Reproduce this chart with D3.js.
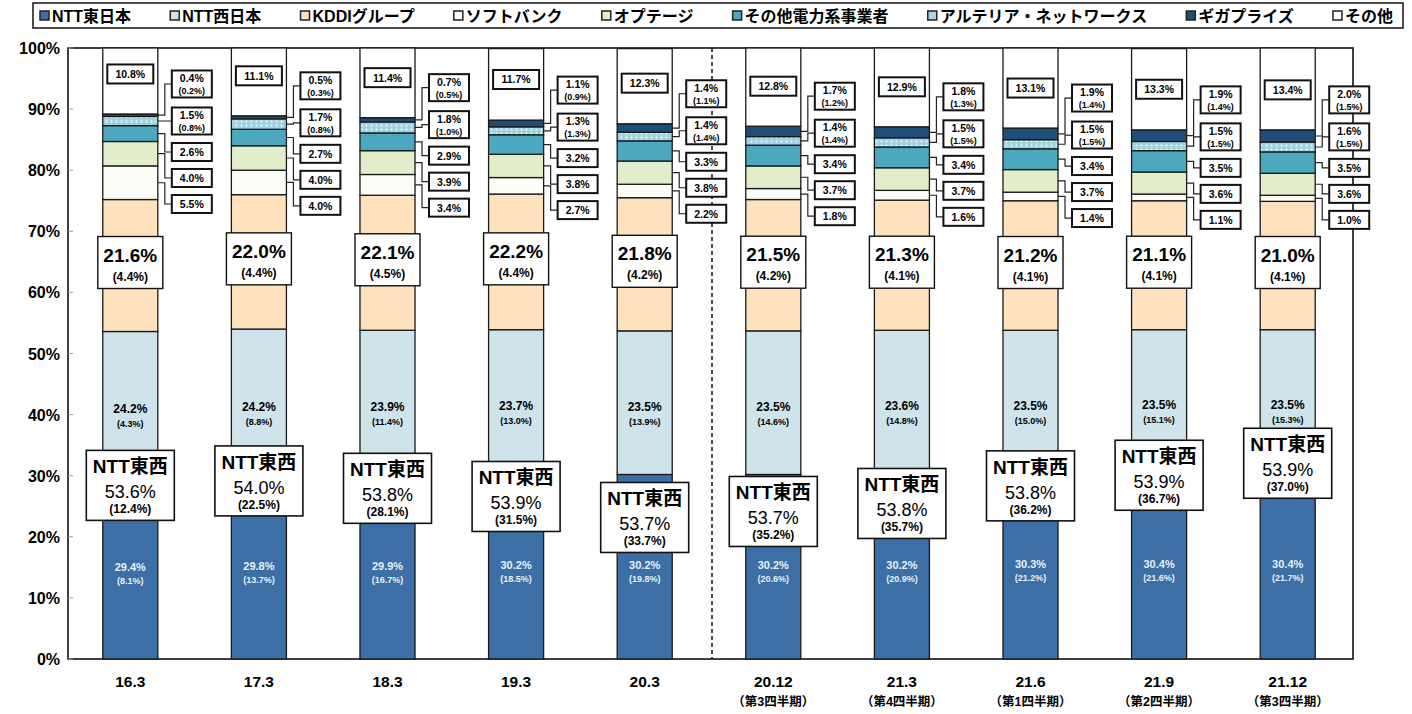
<!DOCTYPE html>
<html>
<head>
<meta charset="utf-8">
<script src="https://cdn.jsdelivr.net/npm/d3@7"></script>
<style>
  body { margin: 0; background: #fff; }
  svg { font-family: "Liberation Sans", "Noto Sans CJK JP", sans-serif; font-weight: bold; }
</style>
</head>
<body>
<svg width="1412" height="714"></svg>
<script>
var categories = ["16.3", "17.3", "18.3", "19.3", "20.3", "20.12", "21.3", "21.6", "21.9", "21.12"];
var subLabels = ["", "", "", "", "", "（第3四半期）", "（第4四半期）", "（第1四半期）", "（第2四半期）", "（第3四半期）"];
var seriesNames = ["NTT東日本", "NTT西日本", "KDDIグループ", "ソフトバンク", "オプテージ",
                   "その他電力系事業者", "アルテリア・ネットワークス", "ギガプライズ", "その他"];

// shares (%)
var nttEast    = [29.4, 29.8, 29.9, 30.2, 30.2, 30.2, 30.2, 30.3, 30.4, 30.4];
var nttWest    = [24.2, 24.2, 23.9, 23.7, 23.5, 23.5, 23.6, 23.5, 23.5, 23.5];
var kddi       = [21.6, 22.0, 22.1, 22.2, 21.8, 21.5, 21.3, 21.2, 21.1, 21.0];
var softbank   = [5.5, 4.0, 3.4, 2.7, 2.2, 1.8, 1.6, 1.4, 1.1, 1.0];
var optage     = [4.0, 4.0, 3.9, 3.8, 3.8, 3.7, 3.7, 3.7, 3.6, 3.6];
var otherPower = [2.6, 2.7, 2.9, 3.2, 3.3, 3.4, 3.4, 3.4, 3.5, 3.5];
var arteria    = [1.5, 1.7, 1.8, 1.3, 1.4, 1.4, 1.5, 1.5, 1.5, 1.6];
var gigaprize  = [0.4, 0.5, 0.7, 1.1, 1.4, 1.7, 1.8, 1.9, 1.9, 2.0];
var others     = [10.8, 11.1, 11.4, 11.7, 12.3, 12.8, 12.9, 13.1, 13.3, 13.4];

// values in brackets
var nttTotal     = [53.6, 54.0, 53.8, 53.9, 53.7, 53.7, 53.8, 53.8, 53.9, 53.9];
var nttTotalSub  = [12.4, 22.5, 28.1, 31.5, 33.7, 35.2, 35.7, 36.2, 36.7, 37.0];
var nttEastSub   = [8.1, 13.7, 16.7, 18.5, 19.8, 20.6, 20.9, 21.2, 21.6, 21.7];
var nttWestSub   = [4.3, 8.8, 11.4, 13.0, 13.9, 14.6, 14.8, 15.0, 15.1, 15.3];
var kddiSub      = [4.4, 4.4, 4.5, 4.4, 4.2, 4.2, 4.1, 4.1, 4.1, 4.1];
var arteriaSub   = [0.8, 0.8, 1.0, 1.3, 1.4, 1.4, 1.5, 1.5, 1.5, 1.5];
var gigaprizeSub = [0.2, 0.3, 0.5, 0.9, 1.1, 1.2, 1.3, 1.4, 1.4, 1.5];

var yTicks = [0, 10, 20, 30, 40, 50, 60, 70, 80, 90, 100];

var keys = ["east", "west", "kddi", "sb", "optage", "power", "arteria", "giga", "other"];
var colors = ["#3b6fa6", "#cfe3ea", "#fde2bd", "#fbfdf6", "#e2eecb", "#4ba8bf", "url(#dots)", "#1e4d78", "#ffffff"];
var legendFill = ["#3b6fa6", "#cfe3ea", "#fde2bd", "#fbfdf6", "#e2eecb", "#4ba8bf", "#a9d8e4", "#1e4d78", "#ffffff"];

var rows = categories.map(function (c, i) {
  return {cat: c, east: nttEast[i], west: nttWest[i], kddi: kddi[i], sb: softbank[i], optage: optage[i],
          power: otherPower[i], arteria: arteria[i], giga: gigaprize[i], other: others[i]};
});

var svg = d3.select("svg");

// dotted pattern for アルテリア
var pat = svg.append("defs").append("pattern")
    .attr("id", "dots").attr("width", 5).attr("height", 4).attr("patternUnits", "userSpaceOnUse");
pat.append("rect").attr("width", 5).attr("height", 4).attr("fill", "#a3d3e0");
pat.append("circle").attr("cx", 1.5).attr("cy", 1.5).attr("r", 1).attr("fill", "#eef8fb");

var x = d3.scaleBand().domain(categories).range([66, 1352]).paddingInner(0.572).paddingOuter(0.286);
var y = d3.scaleLinear().domain([0, 100]).range([659, 48]);
var bw = x.bandwidth();

var stack = d3.stack().keys(keys)(rows);

// plot frame
svg.append("rect")
    .attr("x", 68).attr("y", y(100)).attr("width", 1285).attr("height", y(0) - y(100))
    .attr("fill", "none").attr("stroke", "#111").attr("stroke-width", 1.6);

// y axis labels
svg.append("g").selectAll("text")
    .data(yTicks).enter().append("text")
    .attr("x", 60).attr("y", function (d) { return y(d) + 6; })
    .attr("text-anchor", "end").style("font-size", "16px")
    .text(function (d) { return d + "%"; });

svg.append("g").selectAll("line")
    .data(yTicks).enter().append("line")
    .attr("x1", 68).attr("x2", 73)
    .attr("y1", function (d) { return y(d); }).attr("y2", function (d) { return y(d); })
    .attr("stroke", "#999").attr("stroke-width", 1);

// dashed separator between annual and quarterly data
var sepX = (x("20.3") + bw + x("20.12")) / 2 + 3;
svg.append("line")
    .attr("x1", sepX).attr("x2", sepX).attr("y1", y(100)).attr("y2", y(0))
    .attr("stroke", "#111").attr("stroke-width", 1.5).attr("stroke-dasharray", "4,3");

// stacked bars
svg.append("g").selectAll("g")
    .data(stack).enter().append("g")
    .attr("fill", function (d, i) { return colors[i]; })
    .selectAll("rect")
    .data(function (d) { return d; }).enter().append("rect")
    .attr("x", function (d) { return x(d.data.cat); })
    .attr("y", function (d) { return y(d[1]); })
    .attr("width", bw)
    .attr("height", function (d) { return y(d[0]) - y(d[1]); })
    .attr("stroke", "#1a1a1a").attr("stroke-width", 1.3);

// x axis labels
svg.append("g").selectAll("text")
    .data(categories).enter().append("text")
    .attr("x", function (d) { return x(d) + bw / 2; }).attr("y", 687)
    .attr("text-anchor", "middle").style("font-size", "15.5px")
    .text(function (d) { return d; });

svg.append("g").selectAll("text")
    .data(subLabels).enter().append("text")
    .attr("x", function (d, i) { return x(categories[i]) + bw / 2; }).attr("y", 706)
    .attr("text-anchor", "middle").style("font-size", "12.5px")
    .text(function (d) { return d; });

function pct(v) { return v.toFixed(1) + "%"; }
function paren(v) { return "(" + v.toFixed(1) + "%)"; }

function labelBox(g, cx, cy, w, h, sw) {
  g.append("rect").attr("x", cx - w / 2).attr("y", cy - h / 2).attr("width", w).attr("height", h)
      .attr("fill", "#fff").attr("stroke", "#111").attr("stroke-width", sw);
}

var ann = svg.append("g");
var boxGaps = [0, 37, 68, 94, 120];
var eastWestNudge = [6, 4, 12, 22, 43, 37, 29, 12, 2, -10];

categories.forEach(function (c, i) {
  var bx = x(c), cx = bx + bw / 2, right = bx + bw;
  var g = ann.append("g");

  // NTT東 (inside dark blue)
  var eMid = y(nttEast[i] / 2);
  g.append("text").attr("x", cx).attr("y", eMid + 2).attr("text-anchor", "middle")
      .attr("fill", "#e8f0f8").style("font-size", "11px").text(pct(nttEast[i]));
  g.append("text").attr("x", cx).attr("y", eMid + 15).attr("text-anchor", "middle")
      .attr("fill", "#e8f0f8").style("font-size", "9px").text(paren(nttEastSub[i]));

  // NTT西 (inside light blue)
  var wMid = y(nttEast[i] + nttWest[i] / 2) + 8;
  g.append("text").attr("x", cx).attr("y", wMid).attr("text-anchor", "middle")
      .style("font-size", "12px").text(pct(nttWest[i]));
  g.append("text").attr("x", cx).attr("y", wMid + 14).attr("text-anchor", "middle")
      .style("font-size", "9px").text(paren(nttWestSub[i]));

  // NTT東西 box
  var tcy = y(nttEast[i]) + eastWestNudge[i];
  labelBox(g, cx, tcy, 88, 70, 1.6);
  g.append("text").attr("x", cx).attr("y", tcy - 12).attr("text-anchor", "middle")
      .style("font-size", "19px").text("NTT東西");
  g.append("text").attr("x", cx).attr("y", tcy + 13).attr("text-anchor", "middle")
      .style("font-size", "18px").style("font-weight", "normal").text(pct(nttTotal[i]));
  g.append("text").attr("x", cx).attr("y", tcy + 28).attr("text-anchor", "middle")
      .style("font-size", "12px").text(paren(nttTotalSub[i]));

  // KDDI box
  var kcy = y(nttTotal[i] + kddi[i] / 2) - 3;
  labelBox(g, cx, kcy, 65, 52, 1.4);
  g.append("text").attr("x", cx).attr("y", kcy - 1).attr("text-anchor", "middle")
      .style("font-size", "19px").text(pct(kddi[i]));
  g.append("text").attr("x", cx).attr("y", kcy + 18).attr("text-anchor", "middle")
      .style("font-size", "12px").text(paren(kddiSub[i]));

  // その他 box (top)
  var oBase = 100 - others[i];
  var ocy = y(oBase) - 40;
  labelBox(g, cx, ocy, 46, 19, 2);
  g.append("text").attr("x", cx).attr("y", ocy + 4).attr("text-anchor", "middle")
      .style("font-size", "10.5px").text(pct(others[i]));

  // callouts for the small segments, top to bottom
  var segs = [
    {v: gigaprize[i], s: gigaprizeSub[i], k: 7},
    {v: arteria[i], s: arteriaSub[i], k: 6},
    {v: otherPower[i], s: null, k: 5},
    {v: optage[i], s: null, k: 4},
    {v: softbank[i], s: null, k: 3}
  ];
  var top0 = y(stack[7][i][1]) - 30;
  var boxL = right + 14, boxW = 40;
  segs.forEach(function (s, j) {
    var seg = stack[s.k][i];
    var sy = y((seg[0] + seg[1]) / 2);
    var by = top0 + boxGaps[j];
    var h = s.s === null ? 18 : 27;
    g.append("path")
        .attr("d", "M" + right + "," + sy + "H" + (right + 7) + "V" + by + "H" + boxL)
        .attr("fill", "none").attr("stroke", "#222").attr("stroke-width", 1.2);
    labelBox(g, boxL + boxW / 2, by, boxW, h, 2);
    if (s.s === null) {
      g.append("text").attr("x", boxL + boxW / 2).attr("y", by + 4).attr("text-anchor", "middle")
          .style("font-size", "10.5px").text(pct(s.v));
    } else {
      g.append("text").attr("x", boxL + boxW / 2).attr("y", by - 2).attr("text-anchor", "middle")
          .style("font-size", "10.5px").text(pct(s.v));
      g.append("text").attr("x", boxL + boxW / 2).attr("y", by + 10).attr("text-anchor", "middle")
          .style("font-size", "9px").text(paren(s.s));
    }
  });
});

// legend
var legend = svg.append("g");
legend.append("rect").attr("x", 33).attr("y", 3).attr("width", 1370).attr("height", 25)
    .attr("fill", "#fff").attr("stroke", "#111").attr("stroke-width", 1.5);
var items = legend.selectAll("g").data(seriesNames).enter().append("g");
items.append("rect").attr("width", 9).attr("height", 9).attr("y", 11)
    .attr("fill", function (d, i) { return legendFill[i]; })
    .attr("stroke", "#222").attr("stroke-width", 1.5);
items.append("text").attr("x", 12).attr("y", 22).style("font-size", "16px")
    .text(function (d) { return d; });
var widths = [];
items.each(function () { widths.push(this.getBBox().width); });
var total = d3.sum(widths);
var gap = (1393 - 40 - total) / (seriesNames.length - 1);
var cur = 40;
items.attr("transform", function (d, i) {
  var t = "translate(" + cur + ",0)";
  cur += widths[i] + gap;
  return t;
});
</script>
</body>
</html>
